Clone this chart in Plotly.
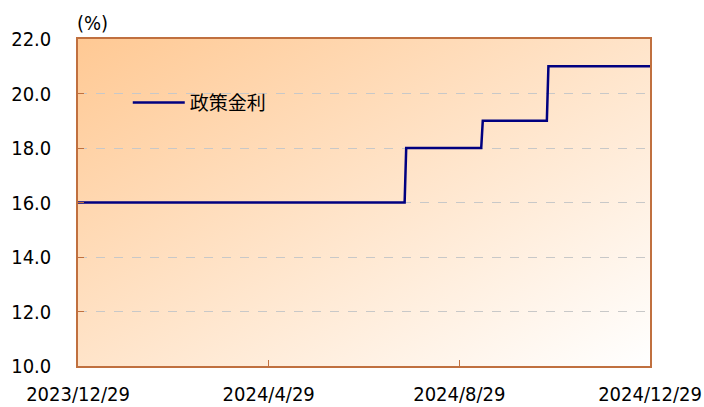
import base64
import plotly.graph_objects as go

# Data: policy rate step changes
dates = ["2023-12-29", "2024-07-25", "2024-07-26", "2024-09-12", "2024-09-13",
         "2024-10-24", "2024-10-25", "2024-12-29"]
rates = [16.0, 16.0, 18.0, 18.0, 19.0, 19.0, 21.0, 21.0]
series_name = "政策金利"

x_tickvals = ["2023-12-29", "2024-04-29", "2024-08-29", "2024-12-29"]
x_ticktext = ["2023/12/29", "2024/4/29", "2024/8/29", "2024/12/29"]
y_tickvals = [10, 12, 14, 16, 18, 20, 22]

# Gradient background as an SVG image
svg = ('<svg xmlns="http://www.w3.org/2000/svg" width="572" height="327" preserveAspectRatio="none">'
       '<defs><linearGradient id="g" x1="0" y1="0" x2="1" y2="1">'
       '<stop offset="0" stop-color="#FFC994"/>'
       '<stop offset="1" stop-color="#FFFFFF"/>'
       '</linearGradient></defs>'
       '<rect width="572" height="327" fill="url(#g)"/></svg>')
svg_uri = "data:image/svg+xml;base64," + base64.b64encode(svg.encode()).decode()

tick_font = dict(family="DejaVu Sans Condensed", size=20, color="#000000")

fig = go.Figure()
fig.add_trace(go.Scatter(
    x=dates, y=rates, mode="lines", name=series_name,
    line=dict(color="#000080", width=2.5),
))

axis_color = "#C0703F"
fig.update_layout(
    width=704, height=407,
    margin=dict(l=78, r=54, t=39, b=41),
    paper_bgcolor="white",
    plot_bgcolor="rgba(0,0,0,0)",
    font=tick_font,
    showlegend=True,
    legend=dict(x=0.087, y=0.805, xanchor="left", yanchor="middle",
                bgcolor="rgba(0,0,0,0)", itemwidth=52,
                font=dict(family="Noto Sans CJK JP", size=19, color="#000000")),
    images=[dict(source=svg_uri, xref="paper", yref="paper", x=0, y=1,
                 sizex=1, sizey=1, sizing="stretch", layer="below",
                 xanchor="left", yanchor="top")],
    annotations=[dict(text="(%)", xref="paper", yref="paper", x=0, y=1,
                      xanchor="center", yanchor="bottom", yshift=2, xshift=14,
                      showarrow=False, font=tick_font)],
)
fig.update_xaxes(
    type="date", range=["2023-12-29", "2024-12-29"],
    tickvals=x_tickvals, ticktext=x_ticktext,
    ticks="inside", ticklen=6, tickcolor=axis_color,
    ticklabelstandoff=9, automargin=False,
    showline=True, linecolor=axis_color, linewidth=1.5, mirror=True,
    showgrid=False, zeroline=False,
)
fig.update_yaxes(
    range=[10, 22], tickvals=y_tickvals, tickformat=".1f",
    ticks="inside", ticklen=6, tickcolor=axis_color,
    ticklabelstandoff=21, automargin=False,
    showline=True, linecolor=axis_color, linewidth=1.5, mirror=True,
    showgrid=True, gridcolor="#C8C8C8", griddash="dash", gridwidth=1,
    zeroline=False,
)
fig.write_html("out.html", config={"displayModeBar": False},
               post_script="document.body.style.margin='0';")
